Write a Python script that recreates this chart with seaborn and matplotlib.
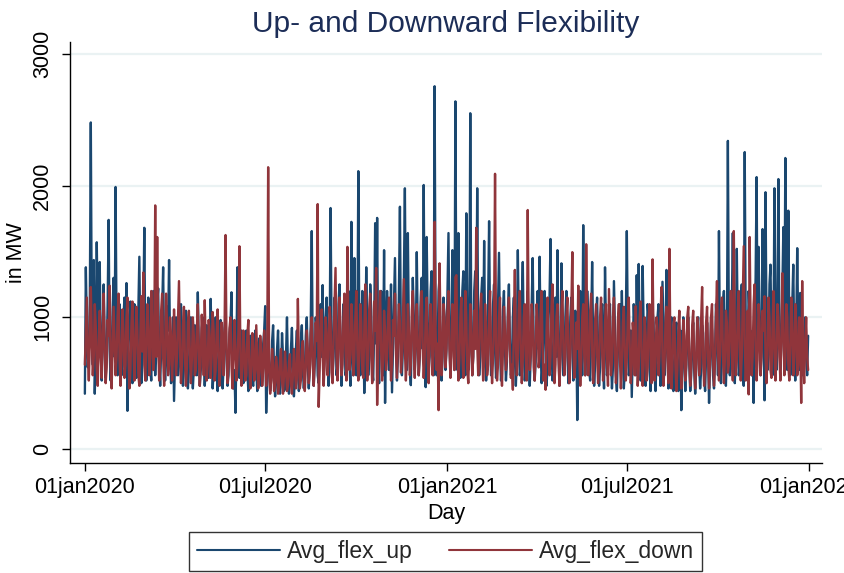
import numpy as np
import pandas as pd
import matplotlib
matplotlib.use("Agg")
import matplotlib.pyplot as plt
import seaborn as sns

# ---- data (daily values, 2020-01-01 .. 2021-12-31) ----
start_date = "2020-01-01"

avg_flex_up = [
    # Jan 2020
    420, 1380, 900, 620, 760, 1100, 2480, 900, 640, 1435, 420, 760, 1570, 1000, 700, 1420, 760, 520, 880, 1250, 800, 540, 700, 1100, 1740, 760, 520, 680, 1050, 1300, 700,
    # Feb 2020
    1990, 900, 560, 700, 1100, 960, 560, 640, 1000, 1150, 700, 1260, 290, 760, 1000, 1120, 700, 500, 760, 1100, 900, 540, 660, 1050, 1460, 760, 500, 700, 1000,
    # Mar 2020
    1680, 760, 520, 700, 1150, 1000, 620, 520, 860, 1200, 760, 560, 700, 1100, 1220, 700, 480, 760, 1050, 1380, 700, 520, 680, 1080, 900, 1435, 760, 500, 640, 1000, 365,
    # Apr 2020
    700, 1000, 880, 560, 640, 980, 1100, 700, 480, 620, 960, 1050, 680, 460, 600, 900, 1000, 640, 460, 620, 940, 860, 560, 1190, 800, 480, 600, 920, 1000, 640,
    # May 2020
    480, 620, 940, 860, 540, 640, 1140, 760, 460, 600, 900, 1000, 640, 440, 600, 900, 980, 640, 460, 620, 920, 1000, 680, 480, 560, 880, 960, 1190, 640, 460, 600,
    # Jun 2020
    275, 760, 1380, 800, 540, 620, 900, 760, 500, 540, 820, 900, 600, 440, 560, 860, 760, 500, 480, 720, 900, 620, 440, 560, 840, 740, 480, 520, 800, 900,
    # Jul 2020
    1085, 275, 560, 760, 640, 440, 520, 820, 940, 560, 400, 520, 760, 900, 540, 420, 560, 880, 700, 440, 460, 700, 1000, 600, 420, 520, 760, 920, 560, 400, 540,
    # Aug 2020
    760, 900, 600, 440, 560, 820, 940, 600, 460, 580, 860, 1000, 640, 460, 620, 960, 1655, 700, 480, 640, 1000, 880, 560, 500, 820, 1100, 700, 1245, 560, 700, 1000,
    # Sep 2020
    1150, 700, 480, 760, 1830, 900, 560, 700, 1150, 1000, 560, 640, 1100, 1250, 760, 480, 700, 1100, 960, 560, 600, 1000, 1200, 700, 480, 1725, 760, 560, 1450, 800,
    # Oct 2020
    560, 760, 2110, 900, 560, 760, 1200, 1000, 425, 760, 1380, 900, 560, 700, 1250, 1050, 600, 520, 900, 1715, 800, 1755, 700, 500, 900, 1200, 760, 560, 1510, 350, 900,
    # Nov 2020
    1200, 1000, 600, 760, 1250, 430, 760, 1100, 1450, 800, 520, 700, 1200, 1840, 800, 560, 760, 1300, 1980, 900, 600, 1640, 900, 620, 485, 900, 1300, 1000, 600, 760,
    # Dec 2020
    1495, 900, 560, 700, 1150, 1300, 760, 2005, 800, 470, 1610, 1000, 600, 700, 1200, 1350, 760, 560, 2755, 900, 560, 760, 1200, 1300, 760, 520, 700, 1150, 1000, 600, 760,
    # Jan 2021
    1200, 1640, 800, 560, 900, 1510, 900, 600, 2640, 900, 600, 1640, 800, 540, 700, 1200, 1350, 760, 560, 1790, 1000, 600, 760, 2550, 900, 560, 700, 1200, 1350, 800, 1980,
    # Feb 2021
    900, 560, 700, 1150, 1300, 760, 1580, 800, 520, 700, 1100, 1730, 900, 560, 640, 1100, 1250, 760, 540, 680, 1100, 1490, 800, 520, 640, 1050, 1200, 760,
    # Mar 2021
    520, 660, 1050, 1250, 800, 560, 640, 1000, 1150, 700, 480, 700, 1510, 900, 560, 640, 1100, 1420, 800, 520, 640, 1000, 1200, 760, 480, 700, 1100, 1450, 800, 520, 660,
    # Apr 2021
    1000, 1200, 760, 1460, 800, 500, 640, 1050, 1200, 700, 480, 640, 1000, 1150, 1595, 800, 520, 600, 1000, 1150, 700, 1510, 760, 480, 700, 1410, 900, 560, 640, 1000,
    # May 2021
    1200, 760, 500, 640, 1000, 1150, 760, 520, 700, 1050, 900, 220, 700, 1000, 1200, 760, 560, 1700, 900, 560, 760, 1200, 1000, 600, 520, 900, 1420, 800, 480, 640, 1000,
    # Jun 2021
    1150, 760, 480, 620, 1000, 1100, 700, 460, 1380, 900, 560, 640, 1000, 1100, 700, 460, 620, 1275, 900, 560, 440, 760, 1000, 1100, 640, 1200, 760, 460, 600, 960,
    # Jul 2021
    1655, 900, 560, 640, 900, 395, 760, 1100, 900, 560, 1320, 760, 1405, 800, 520, 700, 1390, 900, 560, 480, 760, 1100, 1000, 600, 440, 700, 1050, 960, 560, 440, 700,
    # Aug 2021
    1000, 1100, 700, 480, 760, 1270, 900, 560, 800, 1360, 760, 460, 600, 900, 1000, 640, 440, 560, 880, 960, 620, 440, 600, 900, 295, 760, 1000, 640, 440, 620, 900,
    # Sep 2021
    1000, 640, 440, 560, 860, 960, 600, 420, 600, 900, 1000, 640, 460, 600, 940, 880, 560, 440, 700, 960, 760, 350, 640, 1000, 900, 560, 460, 700, 1100, 900,
    # Oct 2021
    560, 1655, 800, 500, 700, 1100, 1200, 700, 480, 760, 2340, 900, 560, 700, 1100, 1640, 900, 500, 760, 1520, 900, 560, 640, 1100, 1250, 700, 480, 2255, 900, 560, 760,
    # Nov 2021
    1200, 1000, 640, 560, 900, 350, 1000, 1300, 2065, 800, 1535, 900, 560, 800, 1670, 900, 370, 1950, 900, 600, 760, 1250, 1400, 800, 560, 760, 1980, 900, 600, 1100,
    # Dec 2021
    2050, 900, 600, 800, 1200, 1685, 800, 2210, 900, 600, 1810, 900, 560, 760, 1100, 1400, 760, 520, 900, 1525, 900, 600, 1185, 760, 560, 700, 865, 1000, 700, 560, 860,
]

avg_flex_down = [
    # Jan 2020
    640, 900, 1150, 720, 520, 800, 1230, 860, 560, 700, 1100, 940, 600, 480, 820, 1050, 700, 540, 900, 1180, 760, 500, 620, 980, 860, 1240, 640, 460, 760, 1080, 820,
    # Feb 2020
    560, 700, 1000, 1180, 680, 480, 740, 1060, 880, 540, 640, 1000, 1150, 720, 460, 600, 940, 1120, 760, 520, 800, 1080, 900, 560, 480, 860, 1160, 740, 1340,
    # Mar 2020
    640, 520, 820, 1100, 900, 560, 700, 1200, 960, 600, 780, 1850, 700, 1610, 820, 520, 660, 1050, 1180, 700, 480, 760, 1180, 940, 560, 640, 1000, 860, 520, 720, 1060,
    # Apr 2020
    800, 560, 700, 1000, 1275, 760, 500, 640, 940, 1080, 700, 480, 620, 960, 1050, 720, 500, 680, 1000, 860, 560, 600, 900, 1100, 740, 480, 700, 1020, 820, 560,
    # May 2020
    1130, 760, 520, 640, 980, 860, 540, 700, 1040, 900, 520, 600, 880, 1060, 700, 480, 640, 960, 820, 560, 900, 1625, 760, 500, 620, 920, 1000, 640, 460, 700, 980,
    # Jun 2020
    760, 520, 640, 900, 1540, 700, 480, 620, 900, 760, 520, 560, 860, 980, 640, 460, 600, 880, 760, 520, 600, 940, 700, 460, 580, 860, 720, 480, 620, 900,
    # Jul 2020
    700, 480, 620, 2140, 600, 420, 520, 760, 640, 440, 500, 700, 620, 420, 480, 680, 760, 520, 420, 560, 740, 600, 440, 480, 660, 720, 500, 420, 560, 760, 620,
    # Aug 2020
    460, 540, 1140, 700, 460, 520, 760, 820, 560, 440, 620, 900, 760, 500, 580, 880, 1000, 640, 480, 700, 960, 820, 1860, 320, 600, 900, 1060, 700, 480, 640, 1000,
    # Sep 2020
    880, 560, 700, 1080, 960, 580, 500, 820, 1100, 1375, 700, 520, 760, 1150, 900, 560, 640, 1000, 1180, 760, 520, 1535, 880, 600, 720, 1100, 940, 560, 680, 1000,
    # Oct 2020
    1200, 760, 520, 700, 1100, 960, 600, 540, 900, 1250, 800, 520, 680, 1060, 1180, 720, 500, 760, 1120, 900, 1375, 335, 700, 1000, 1200, 760, 520, 680, 1050, 900, 600,
    # Nov 2020
    700, 1000, 1150, 760, 520, 640, 980, 860, 1180, 720, 540, 820, 1100, 960, 580, 680, 1000, 1290, 760, 520, 700, 1100, 900, 560, 640, 1050, 1200, 760, 540, 880,
    # Dec 2020
    1100, 800, 560, 720, 1080, 1200, 760, 540, 700, 1000, 1150, 700, 500, 820, 1100, 900, 560, 760, 1725, 900, 600, 800, 295, 1410, 900, 560, 720, 1100, 1000, 620, 760,
    # Jan 2021
    1050, 1200, 760, 540, 700, 1100, 900, 600, 1305, 1320, 760, 520, 680, 1000, 1150, 720, 540, 800, 1200, 1000, 600, 500, 760, 1100, 880, 560, 700, 1050, 760, 1680, 800,
    # Feb 2021
    560, 700, 1050, 1180, 760, 520, 680, 1100, 900, 560, 640, 1000, 1200, 720, 500, 700, 960, 2090, 800, 520, 640, 1000, 1150, 700, 480, 760, 1080, 900,
    # Mar 2021
    600, 700, 1000, 1150, 760, 540, 640, 450, 960, 1360, 800, 560, 700, 1060, 1200, 760, 500, 680, 1000, 1100, 700, 520, 1815, 900, 600, 720, 1100, 1000, 620, 520, 800,
    # Apr 2021
    1100, 960, 620, 700, 1050, 1200, 760, 520, 640, 450, 900, 1150, 820, 560, 700, 1080, 1250, 760, 500, 640, 1000, 1100, 700, 480, 680, 1050, 1200, 760, 560, 700,
    # May 2021
    1000, 1150, 720, 500, 700, 1050, 1495, 800, 540, 640, 960, 760, 1240, 700, 480, 660, 1000, 1100, 720, 560, 1555, 900, 560, 700, 1050, 1180, 760, 500, 640, 980, 1100,
    # Jun 2021
    720, 500, 660, 1000, 1150, 760, 520, 620, 960, 1100, 700, 480, 1215, 900, 560, 660, 1000, 1150, 740, 500, 640, 980, 1100, 700, 460, 640, 960, 1080, 720, 520,
    # Jul 2021
    700, 1000, 1150, 760, 500, 640, 960, 860, 560, 1085, 760, 480, 620, 1000, 1120, 700, 480, 640, 1000, 860, 520, 620, 980, 1100, 700, 500, 1440, 820, 520, 660, 1000,
    # Aug 2021
    900, 560, 700, 1000, 1230, 700, 480, 620, 960, 1080, 700, 500, 1520, 760, 460, 600, 940, 1000, 640, 440, 600, 900, 1050, 680, 460, 620, 980, 860, 520, 640, 1000,
    # Sep 2021
    1080, 700, 480, 620, 940, 1050, 680, 460, 640, 1000, 900, 560, 620, 980, 1230, 700, 480, 620, 960, 1080, 700, 460, 640, 1000, 1100, 700, 480, 660, 1000, 1275,
    # Oct 2021
    760, 520, 700, 1050, 1150, 720, 500, 680, 1050, 960, 580, 640, 1000, 1200, 760, 520, 1655, 900, 560, 680, 1050, 1200, 760, 520, 700, 1100, 1540, 800, 520, 700, 1050,
    # Nov 2021
    415, 1610, 900, 560, 700, 1100, 1250, 760, 520, 680, 1100, 960, 560, 700, 1050, 900, 1160, 700, 500, 720, 1150, 1000, 600, 540, 900, 1200, 760, 520, 700, 1100,
    # Dec 2021
    1000, 700, 520, 860, 1335, 900, 560, 680, 1100, 1000, 640, 520, 800, 1150, 900, 560, 700, 1100, 960, 560, 640, 1000, 900, 350, 1275, 700, 500, 800, 1000, 700, 600,
]

series_names = ["Avg_flex_up", "Avg_flex_down"]
tick_dates = ["2020-01-01", "2020-07-01", "2021-01-01", "2021-07-01", "2022-01-01"]
tick_labels = ["01jan2020", "01jul2020", "01jan2021", "01jul2021", "01jan2022"]
y_ticks = [0, 1000, 2000, 3000]

title_text = "Up- and Downward Flexibility"
x_label = "Day"
y_label = "in MW"

# ---- build long table ----
up_dates = pd.date_range(start_date, periods=len(avg_flex_up), freq="D")
down_dates = pd.date_range(start_date, periods=len(avg_flex_down), freq="D")
df = pd.concat([
    pd.DataFrame({"Day": up_dates, "value": avg_flex_up, "series": series_names[0]}),
    pd.DataFrame({"Day": down_dates, "value": avg_flex_down, "series": series_names[1]}),
], ignore_index=True)

sns.set_theme(style="white")
plt.rcParams["font.family"] = ["Liberation Sans", "DejaVu Sans"]

navy = "#1a476f"
maroon = "#90353b"
title_col = "#1c2d57"

fig = plt.figure(figsize=(8.44, 5.73), dpi=100)
ax = fig.add_axes([70 / 844, 1 - 462.7 / 573, (822 - 70) / 844, (462.7 - 42) / 573])

sns.lineplot(data=df, x="Day", y="value", hue="series", hue_order=series_names,
             palette=[navy, maroon], linewidth=1.7, ax=ax, legend=False)

t0 = pd.Timestamp(start_date)
ax.set_xlim(t0 - pd.Timedelta(days=15), t0 + pd.Timedelta(days=744))
ax.set_ylim(-104, 3091)

ax.set_xticks([pd.Timestamp(d) for d in tick_dates])
ax.set_xticklabels(tick_labels, fontsize=15.5)
ax.set_yticks(y_ticks)
ax.set_yticklabels([str(v) for v in y_ticks], fontsize=15.5, rotation=90, va="center")

ax.grid(False)
for v in y_ticks:
    ax.axhline(v, color="#eaf2f3", linewidth=1.6, zorder=0)

for s in ["top", "right"]:
    ax.spines[s].set_visible(False)
for s in ["left", "bottom"]:
    ax.spines[s].set_color("black")
    ax.spines[s].set_linewidth(1.0)

ax.tick_params(axis="both", direction="out", length=6, width=1.0, color="black",
               labelcolor="black", bottom=True, left=True)
ax.tick_params(axis="x", pad=4)
ax.tick_params(axis="y", pad=6)

ax.set_xlabel(x_label, fontsize=15.5, color="black", labelpad=4)
ax.set_ylabel(y_label, fontsize=15.5, color="black", labelpad=4)
ax.set_title(title_text, fontsize=21.5, color=title_col, pad=7)

handles = [plt.Line2D([0], [0], color=navy, linewidth=1.5),
           plt.Line2D([0], [0], color=maroon, linewidth=1.5)]
leg = fig.legend(handles, series_names, loc="lower center", bbox_to_anchor=(0.528, 0.0),
                 ncol=2, fontsize=16.5, frameon=True, fancybox=False,
                 handlelength=3.6, columnspacing=1.6, handletextpad=0.3,
                 borderpad=0.35, borderaxespad=0.1)
leg.get_frame().set_edgecolor("black")
leg.get_frame().set_linewidth(1.0)

fig.savefig("out.png", dpi=100)
